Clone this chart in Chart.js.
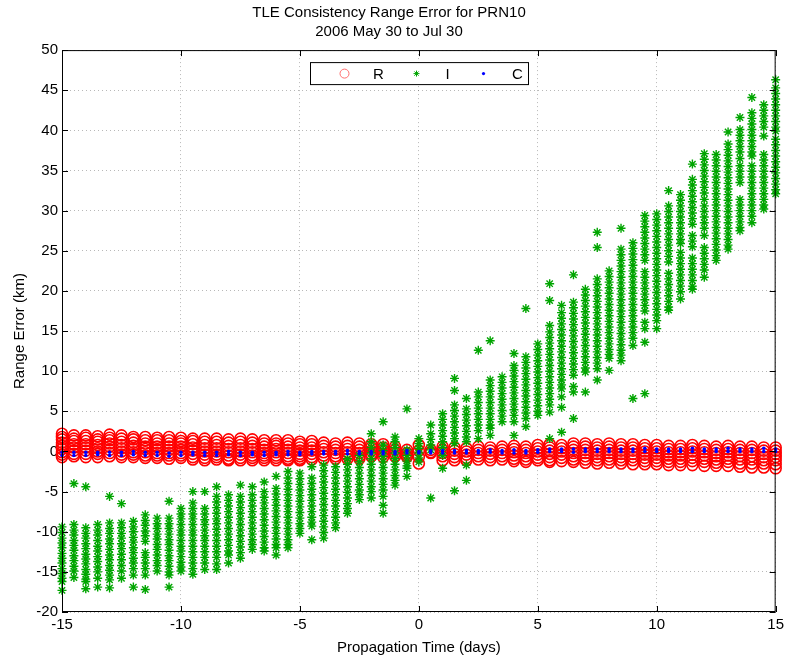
<!DOCTYPE html>
<html>
<head>
<meta charset="utf-8">
<title>TLE Consistency Range Error for PRN10</title>
<script src="https://cdn.jsdelivr.net/npm/chart.js@4.4.1/dist/chart.umd.min.js"></script>
<style>
  html, body { margin: 0; padding: 0; background: #fff; }
  #wrap { width: 788px; height: 665px; }
</style>
</head>
<body>
<div id="wrap"><canvas id="chart" width="788" height="665"></canvas></div>
<script>
// ===== Data =====
// propagation time of each column of samples (days)
const days = [-15,-14.5,-14,-13.5,-13,-12.5,-12,-11.5,-11,-10.5,-10,-9.5,-9,-8.5,-8,-7.5,-7,-6.5,-6,-5.5,
  -5,-4.5,-4,-3.5,-3,-2.5,-2,-1.5,-1,-0.5,0,0.5,1,1.5,2,2.5,3,3.5,4,4.5,
  5,5.5,6,6.5,7,7.5,8,8.5,9,9.5,10,10.5,11,11.5,12,12.5,13,13.5,14,14.5,15];

const xTicks = [-15, -10, -5, 0, 5, 10, 15];
const yTicks = [-20, -15, -10, -5, 0, 5, 10, 15, 20, 25, 30, 35, 40, 45, 50];

// R (radial) range error, km - one list per column of days
const rCols = [
  [2.2,1.8,1.5,1.1,0.7,0.3,-0.1,-0.4,-0.7],
  [2.0,1.6,1.3,0.9,0.5,0.1,-0.3,-0.6],
  [2.0,1.7,1.3,0.9,0.5,0.1,-0.3,-0.7],
  [1.9,1.5,1.2,0.8,0.4,0.0,-0.3,-0.7],
  [2.1,1.7,1.4,1.0,0.6,0.2,-0.2,-0.6],
  [2.0,1.6,1.2,0.8,0.4,0.0,-0.4,-0.7],
  [1.8,1.5,1.1,0.7,0.3,-0.1,-0.4,-0.7],
  [1.8,1.4,1.0,0.6,0.3,-0.1,-0.5,-0.8],
  [1.7,1.4,1.0,0.6,0.2,-0.2,-0.5,-0.8],
  [1.8,1.4,1.0,0.6,0.2,-0.2,-0.5,-0.9],
  [1.7,1.3,1.0,0.6,0.2,-0.2,-0.5,-0.8],
  [1.6,1.3,0.9,0.5,0.1,-0.3,-0.7,-1.0],
  [1.6,1.2,0.8,0.4,0.0,-0.4,-0.8,-1.1],
  [1.6,1.2,0.8,0.4,0.0,-0.4,-0.7,-1.0],
  [1.5,1.1,0.7,0.3,-0.1,-0.5,-0.9,-1.1],
  [1.6,1.2,0.8,0.4,0.0,-0.4,-0.8,-1.1],
  [1.5,1.1,0.7,0.3,-0.1,-0.5,-0.8,-1.1],
  [1.4,1.0,0.6,0.2,-0.2,-0.5,-0.8,-1.1],
  [1.4,1.0,0.7,0.3,-0.1,-0.5,-0.8,-1.1],
  [1.4,1.0,0.6,0.2,-0.2,-0.6,-0.9,-1.1],
  [1.2,0.9,0.5,0.1,-0.3,-0.6,-0.9,-1.1],
  [1.3,0.9,0.5,0.1,-0.3,-0.7,-1.0],
  [1.1,0.7,0.3,-0.1,-0.5,-0.9],
  [1.0,0.6,0.2,-0.2,-0.6,-0.9],
  [1.1,0.7,0.3,-0.1,-0.5,-0.9],
  [1.0,0.6,0.2,-0.2,-0.6,-0.9],
  [0.9,0.5,0.1,-0.3,-0.6],
  [0.9,0.5,0.1,-0.3,-0.7],
  [0.6,0.2,-0.2,-0.6],
  [0.2,-0.2,-0.5,-0.7],
  [0.8,0.1,-0.7,-1.5],
  [0.2,-0.1,-0.2],
  [0.6,0.2,-0.2,-0.6,-1.1],
  [0.5,0.1,-0.3,-0.7,-1.1],
  [0.4,0.0,-0.4,-0.8,-1.1],
  [0.6,0.2,-0.2,-0.6,-1.0],
  [0.5,0.1,-0.3,-0.7,-1.1],
  [0.6,0.2,-0.2,-0.6,-1.0],
  [0.7,0.3,-0.1,-0.5,-0.9,-1.2],
  [0.6,0.2,-0.2,-0.6,-1.0,-1.3],
  [0.8,0.4,0.0,-0.4,-0.8,-1.1],
  [0.9,0.5,0.1,-0.3,-0.7,-1.1,-1.3],
  [0.8,0.4,0.0,-0.4,-0.8,-1.2],
  [1.0,0.6,0.2,-0.2,-0.6,-1.0,-1.3],
  [1.0,0.6,0.2,-0.2,-0.6,-1.0,-1.4],
  [0.9,0.5,0.1,-0.3,-0.7,-1.1,-1.5],
  [1.0,0.6,0.2,-0.2,-0.6,-1.0,-1.4],
  [0.9,0.5,0.1,-0.3,-0.7,-1.1,-1.5],
  [0.9,0.5,0.1,-0.3,-0.7,-1.1,-1.6],
  [0.8,0.4,0.0,-0.4,-0.8,-1.2,-1.6],
  [0.8,0.4,0.0,-0.4,-0.8,-1.2,-1.6],
  [0.7,0.3,-0.1,-0.5,-0.9,-1.3,-1.7],
  [0.7,0.3,-0.1,-0.5,-0.9,-1.3,-1.7],
  [0.8,0.4,0.0,-0.4,-0.8,-1.2,-1.7],
  [0.7,0.3,-0.1,-0.5,-0.9,-1.3,-1.8],
  [0.6,0.2,-0.2,-0.6,-1.0,-1.4,-1.8],
  [0.7,0.3,-0.1,-0.5,-0.9,-1.3,-1.8],
  [0.6,0.2,-0.2,-0.6,-1.0,-1.5,-1.9],
  [0.6,0.2,-0.2,-0.6,-1.0,-1.5,-2.0],
  [0.5,0.1,-0.3,-0.7,-1.1,-1.5,-2.0],
  [0.5,0.1,-0.3,-0.7,-1.1,-1.6,-2.1]
];

// I (in-track) range error, km
const iCols = [
  [-9.4,-10.1,-10.8,-11.4,-12.0,-12.7,-13.3,-13.9,-14.6,-15.2,-15.8,-16.2,-17.3],
  [-4.0,-9.1,-9.8,-10.4,-11.1,-11.7,-12.3,-13.0,-13.6,-14.3,-14.9,-15.7],
  [-4.4,-9.5,-10.2,-10.8,-11.5,-12.1,-12.8,-13.4,-14.0,-14.7,-15.3,-15.9,-16.2,-17.1],
  [-9.1,-9.8,-10.4,-11.1,-11.8,-12.4,-13.1,-13.7,-14.4,-15.0,-15.8,-16.9],
  [-5.6,-8.9,-9.6,-10.2,-10.9,-11.5,-12.2,-12.9,-13.5,-14.2,-14.8,-15.4,-16.0,-17.0],
  [-6.5,-8.9,-9.5,-10.2,-10.8,-11.5,-12.1,-12.8,-13.5,-14.2,-14.9,-15.8],
  [-8.7,-9.4,-10.0,-10.7,-11.3,-12.0,-12.6,-13.3,-13.9,-14.6,-15.4,-16.9],
  [-7.9,-8.6,-9.2,-9.9,-10.5,-11.2,-12.6,-13.2,-13.9,-14.6,-15.4,-17.2],
  [-8.3,-9.0,-9.6,-10.3,-10.9,-11.6,-12.2,-12.9,-13.6,-14.2,-14.9],
  [-6.2,-8.3,-9.0,-9.6,-10.3,-11.0,-11.6,-12.3,-13.0,-13.6,-14.3,-15.0,-15.4,-16.9],
  [-7.1,-7.8,-8.4,-9.1,-9.8,-10.4,-11.1,-11.8,-12.4,-13.1,-13.8,-14.4,-14.9],
  [-5.0,-6.4,-7.1,-7.8,-8.4,-9.1,-9.8,-10.4,-11.1,-11.8,-12.5,-13.2,-13.9,-14.6,-15.3],
  [-5.0,-7.1,-7.8,-8.5,-9.1,-9.8,-10.5,-11.1,-11.8,-12.5,-13.2,-13.9,-14.7],
  [-4.4,-5.6,-6.3,-7.0,-7.7,-8.4,-9.0,-9.7,-10.4,-11.1,-11.8,-12.5,-13.2,-14.0,-14.7],
  [-5.4,-6.1,-6.8,-7.5,-8.2,-8.9,-9.6,-10.3,-11.0,-11.7,-12.4,-12.9,-13.9],
  [-4.2,-5.6,-6.3,-7.0,-7.7,-8.4,-9.1,-9.8,-10.5,-11.2,-11.9,-12.6,-13.3],
  [-4.4,-5.4,-6.1,-6.8,-7.5,-8.2,-8.9,-9.6,-10.3,-11.0,-11.6,-12.2],
  [-3.8,-5.0,-5.7,-6.4,-7.1,-7.8,-8.5,-9.2,-9.9,-10.6,-11.3,-12.0,-12.4],
  [-3.1,-4.6,-5.3,-6.0,-6.7,-7.4,-8.1,-8.8,-9.5,-10.2,-10.9,-11.6,-12.0,-12.9],
  [-2.5,-3.3,-4.0,-4.7,-5.4,-6.1,-6.8,-7.5,-8.2,-8.9,-9.6,-10.3,-11.0,-11.6,-12.0],
  [-2.7,-3.4,-4.1,-4.8,-5.5,-6.2,-6.9,-7.6,-8.3,-9.0,-9.6,-10.2],
  [-1.9,-3.3,-4.0,-4.7,-5.4,-6.1,-6.8,-7.5,-8.2,-8.8,-9.3,-11.0],
  [-1.7,-2.4,-3.1,-3.8,-4.5,-5.2,-5.9,-6.6,-7.3,-8.0,-8.7,-9.4,-10.1,-10.8],
  [-1.9,-2.6,-3.3,-4.0,-4.7,-5.4,-6.1,-6.8,-7.5,-8.2,-8.9,-9.5],
  [-0.9,-1.6,-2.3,-3.0,-3.7,-4.4,-5.1,-5.8,-6.5,-7.1,-7.7],
  [-0.5,-1.3,-2.0,-2.7,-3.4,-4.1,-4.8,-5.4,-6.0],
  [2.2,1.2,0.5,-0.2,-0.9,-1.6,-2.3,-3.0,-3.7,-4.4,-5.0,-5.8],
  [3.7,0.8,0.1,-0.6,-1.3,-2.0,-2.7,-3.4,-4.1,-4.8,-5.6,-6.7,-7.7],
  [1.8,1.2,0.5,-0.2,-0.9,-1.6,-2.3,-3.0,-3.6,-4.2],
  [5.3,0.2,-0.5,-1.2,-1.8,-2.1,-3.1],
  [1.6,1.0,0.4,-0.2,-0.8,-1.3],
  [3.3,2.2,1.5,0.8,0.2,-5.8],
  [4.7,4.0,3.3,2.6,1.9,1.2,0.5,-0.5,-2.1],
  [9.1,7.6,5.8,5.1,4.4,3.7,3.0,2.3,1.6,1.0,-4.9],
  [6.6,5.3,4.6,3.9,3.2,2.5,1.8,1.2,-1.7,-3.6],
  [12.6,7.4,6.8,6.1,5.4,4.7,4.0,3.3,2.6,1.6],
  [13.8,8.9,8.2,7.5,6.8,6.1,5.4,4.7,4.0,3.3,2.9,2.0],
  [9.3,8.6,7.9,7.2,6.5,5.8,5.1,4.4,3.7],
  [12.2,10.7,10.1,9.4,8.7,8.0,7.3,6.6,5.9,5.2,4.5,3.7,2.0],
  [17.8,11.8,11.1,10.4,9.7,9.0,8.3,7.6,6.9,6.2,5.5,4.8,4.1,3.1],
  [13.4,12.7,12.0,11.3,10.6,9.9,9.2,8.5,7.8,7.1,6.4,5.7,5.0,4.5],
  [20.9,18.8,15.7,14.9,14.2,13.5,12.8,12.1,11.4,10.7,10.0,9.3,8.6,7.9,7.2,6.5,5.8,4.9,1.6],
  [18.2,17.3,16.6,15.9,15.2,14.5,13.8,13.1,12.4,11.7,11.0,10.3,9.6,8.9,8.3,7.8,6.8,5.5,2.4],
  [22.0,18.6,17.9,17.2,16.5,15.8,15.1,14.4,13.7,13.0,12.3,11.6,10.9,10.2,9.5,8.1,7.4,4.1],
  [20.2,19.5,18.8,18.1,17.4,16.7,16.0,15.3,14.6,13.9,13.2,12.5,11.8,11.1,10.4,9.9,7.4],
  [27.3,25.4,21.5,20.8,20.1,19.4,18.7,18.0,17.3,16.6,15.9,15.2,14.5,13.8,13.1,12.4,11.7,11.0,10.3,8.9],
  [22.5,21.8,21.1,20.4,19.7,19.0,18.3,17.6,16.9,16.2,15.5,14.8,14.1,13.4,12.7,12.1,11.6,10.1],
  [27.8,25.2,24.5,23.8,23.1,22.4,21.7,21.0,20.3,19.6,18.9,18.2,17.5,16.8,16.1,15.4,14.7,14.0,13.3,12.6,12.0,11.3],
  [26.0,25.3,24.6,23.9,23.2,22.5,21.8,21.1,20.4,19.7,19.0,18.3,17.6,16.9,16.2,15.5,14.8,14.1,13.2,6.6],
  [29.4,28.7,28.0,27.3,26.6,25.9,25.2,24.5,23.8,22.4,21.7,21.0,20.3,19.6,18.9,18.2,17.5,16.1,15.3,13.6,7.2],
  [29.6,28.9,28.2,27.5,26.8,26.1,25.4,24.7,24.0,23.3,22.6,21.9,21.2,20.5,19.8,19.1,18.4,17.7,17.0,16.3,15.3],
  [32.5,30.6,29.9,29.2,28.5,27.8,27.1,26.4,25.7,25.0,24.3,23.6,22.2,21.5,20.8,20.1,19.4,18.7,18.0,17.6],
  [32.0,31.3,30.6,29.9,29.2,28.5,27.8,27.1,26.4,25.9,24.8,24.1,23.4,22.7,22.0,21.3,20.6,19.9,19.0],
  [35.8,33.9,33.2,32.5,31.8,31.1,30.4,29.7,29.0,28.3,26.9,26.2,25.5,24.1,23.4,22.7,22.0,21.3,20.6,20.2],
  [37.1,36.4,35.7,35.0,34.3,33.6,32.9,32.2,31.4,30.6,29.9,29.2,28.5,27.8,26.9,25.4,24.7,24.0,23.3,22.6,21.7],
  [37.0,36.3,35.6,34.9,34.2,33.5,32.8,32.1,31.4,30.7,30.0,29.3,28.6,27.9,27.2,26.5,25.8,25.1,24.4,23.8],
  [39.8,38.3,37.6,36.9,36.2,35.5,34.8,34.1,33.4,32.7,32.0,31.3,30.6,29.9,29.2,28.5,27.8,27.1,26.4,25.7,25.2],
  [41.6,40.1,39.4,38.7,38.0,37.3,36.5,35.6,34.9,34.2,33.5,31.4,30.7,30.0,29.3,28.6,27.9,27.5],
  [44.1,42.2,41.5,40.8,40.1,39.4,38.7,38.0,37.3,36.8,35.6,34.9,34.2,33.5,32.8,32.1,31.4,30.7,30.0,29.3,28.5],
  [43.2,42.5,41.8,41.1,40.4,39.3,37.0,36.3,35.6,34.9,34.2,33.5,32.8,32.1,31.4,30.7,30.2],
  [46.3,45.3,44.6,43.9,43.2,42.5,41.8,41.1,40.4,39.9,38.9,38.2,37.5,36.8,36.1,35.4,34.7,34.0,33.3,32.6,32.1]
];

// C (cross-track) range error, km
const cCols = [
  [-0.1,-0.5],[-0.1,-0.5],[-0.1,-0.5],[-0.1,-0.4],[-0.1,-0.5],[-0.1,-0.5],[0.0,-0.4],[-0.1,-0.5],
  [-0.1,-0.5],[-0.2,-0.6],[-0.1,-0.5],[-0.1,-0.4],[-0.1,-0.5],[-0.1,-0.5],[0.0,-0.4],[-0.1,-0.5],
  [-0.1,-0.4],[-0.1,-0.5],[-0.1,-0.4],[0.0,-0.4],[-0.1,-0.4],
  [0.0,-0.3],[0.0,-0.3],[0.0,-0.3],[0.1,-0.3],[0.0,-0.3],[0.0,-0.3],[0.0,-0.3],[0.0,-0.3],[0.1,-0.2],[0.0,-0.2],
  [0.1,-0.2],[0.1,-0.2],[0.1,-0.2],[0.1,-0.2],[0.1,-0.2],[0.2,-0.1],[0.1,-0.2],[0.2,-0.2],[0.1,-0.2],[0.2,-0.1],
  [0.3,0.0],[0.3,0.0],[0.3,-0.1],[0.3,0.0],[0.3,0.0],[0.3,0.0],[0.3,0.0],[0.3,0.0],[0.4,0.0],[0.3,0.0],
  [0.3,0.0],[0.3,0.0],[0.4,0.0],[0.3,0.0],[0.3,0.0],[0.4,0.0],[0.3,0.0],[0.3,0.0],[0.4,0.0],[0.3,0.0]
];

// ===== Helpers =====
function toPoints(cols) {
  const pts = [];
  cols.forEach((ys, k) => ys.forEach(y => pts.push({ x: days[k], y: y })));
  return pts;
}

const RED = 'rgb(255,0,0)';
const GREEN = 'rgb(0,165,0)';
const BLUE = 'rgb(0,0,255)';

Chart.defaults.font.family = "'Liberation Sans', Arial, sans-serif";
Chart.defaults.font.size = 15;
Chart.defaults.color = '#000';

// box, inward ticks and legend (MATLAB style)
const framePlugin = {
  id: 'frame',
  afterDraw(chart) {
    const { ctx, chartArea: a, scales: { x, y } } = chart;
    ctx.save();
    ctx.strokeStyle = '#000';
    ctx.lineWidth = 1;
    ctx.strokeRect(a.left + 0.5, a.top + 0.5, a.right - a.left - 1, a.bottom - a.top - 1);
    ctx.beginPath();
    xTicks.forEach(v => {
      const px = Math.round(x.getPixelForValue(v)) + 0.5;
      ctx.moveTo(px, a.bottom); ctx.lineTo(px, a.bottom - 6);
      ctx.moveTo(px, a.top); ctx.lineTo(px, a.top + 6);
    });
    yTicks.forEach(v => {
      const py = Math.round(y.getPixelForValue(v)) + 0.5;
      ctx.moveTo(a.left, py); ctx.lineTo(a.left + 6, py);
      ctx.moveTo(a.right, py); ctx.lineTo(a.right - 6, py);
    });
    ctx.stroke();

    // legend box
    const cx = (a.left + a.right) / 2;
    const bx = Math.round(cx - 109) + 0.5, by = a.top + 12.5, bw = 218, bh = 22;
    ctx.fillStyle = '#fff';
    ctx.fillRect(bx, by, bw, bh);
    ctx.strokeRect(bx, by, bw, bh);
    const my = by + bh / 2;
    ctx.strokeStyle = 'rgb(255,110,110)';
    ctx.beginPath(); ctx.arc(bx + 34, my, 4.5, 0, Math.PI * 2); ctx.stroke();
    ctx.strokeStyle = GREEN;
    Chart.helpers.drawPoint(ctx, { pointStyle: 'star', radius: 3, borderWidth: 1.5 }, bx + 106, my);
    ctx.fillStyle = BLUE;
    ctx.beginPath(); ctx.arc(bx + 173, my, 1.6, 0, Math.PI * 2); ctx.fill();
    ctx.fillStyle = '#000';
    ctx.font = "15px 'Liberation Sans', Arial, sans-serif";
    ctx.textAlign = 'center';
    ctx.textBaseline = 'middle';
    ctx.fillText('R', bx + 68, my + 1);
    ctx.fillText('I', bx + 137, my + 1);
    ctx.fillText('C', bx + 207, my + 1);
    ctx.restore();
  }
};

new Chart(document.getElementById('chart'), {
  type: 'scatter',
  data: {
    datasets: [
      { label: 'R', data: toPoints(rCols), order: 3, clip: false,
        pointStyle: 'circle', pointRadius: 5.5, borderWidth: 1.6,
        borderColor: RED, backgroundColor: 'rgba(0,0,0,0)' },
      { label: 'I', data: toPoints(iCols), order: 2, clip: false,
        pointStyle: 'star', pointRadius: 4.5, borderWidth: 1.4,
        borderColor: GREEN, backgroundColor: GREEN },
      { label: 'C', data: toPoints(cCols), order: 1, clip: false,
        pointStyle: 'circle', pointRadius: 1.8, borderWidth: 0,
        borderColor: BLUE, backgroundColor: BLUE }
    ]
  },
  options: {
    responsive: false,
    animation: false,
    events: [],
    layout: { padding: { left: 0, right: 10, top: 0, bottom: 0 } },
    plugins: {
      legend: { display: false },
      tooltip: { enabled: false },
      title: {
        display: true,
        text: ['TLE Consistency Range Error for PRN10', '2006 May 30 to Jul 30'],
        font: { size: 15, weight: 'normal', lineHeight: 1.27 },
        color: '#000',
        padding: { top: 3, bottom: 9 }
      }
    },
    scales: {
      x: {
        type: 'linear', min: -15, max: 15,
        afterBuildTicks: s => { s.ticks = xTicks.map(v => ({ value: v })); },
        afterFit: s => { s.height = 53; },
        ticks: { padding: 4, color: '#000' },
        grid: { color: 'rgba(0,0,0,0.28)', drawTicks: false },
        border: { display: false, dash: [1, 3] },
        title: { display: true, text: 'Propagation Time (days)', color: '#000',
                 padding: { top: 0, bottom: 8 } }
      },
      y: {
        type: 'linear', min: -20, max: 50,
        afterBuildTicks: s => { s.ticks = yTicks.map(v => ({ value: v })); },
        afterFit: s => { s.width = 62; },
        ticks: { padding: 4, color: '#000' },
        grid: { color: 'rgba(0,0,0,0.28)', drawTicks: false },
        border: { display: false, dash: [1, 3] },
        title: { display: true, text: 'Range Error (km)', color: '#000',
                 padding: { top: 11, bottom: 0 } }
      }
    }
  },
  plugins: [framePlugin]
});
</script>
</body>
</html>
